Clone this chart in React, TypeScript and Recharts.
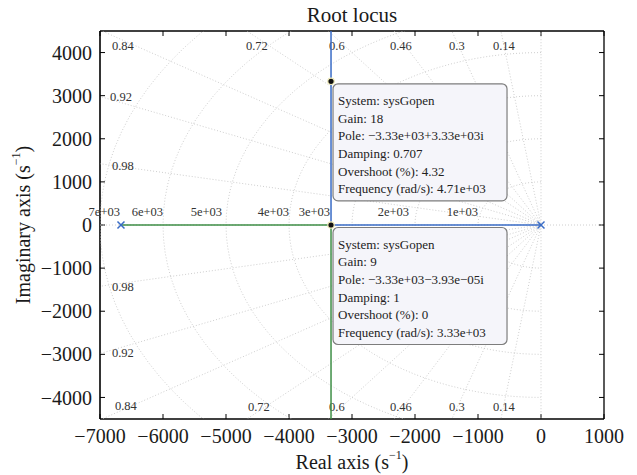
import React from "react";
import { Scatter, ScatterChart, XAxis, YAxis } from "recharts";

const X_TICKS = [-7000, -6000, -5000, -4000, -3000, -2000, -1000, 0, 1000];
const Y_TICKS = [-4000, -3000, -2000, -1000, 0, 1000, 2000, 3000, 4000];

// open-loop poles
const POLES = [
  { x: -6667, y: 0 },
  { x: 0, y: 0 },
];

// the two locus branches
const BLUE_BRANCH = [
  { x: 0, y: 0 },
  { x: -3333, y: 0 },
  { x: -3333, y: 4600 },
];
const GREEN_BRANCH = [
  { x: -6667, y: 0 },
  { x: -3333, y: 0 },
  { x: -3333, y: -4600 },
];

// sgrid values
const DAMPING = [0.14, 0.3, 0.46, 0.6, 0.72, 0.84, 0.92, 0.98];
const FREQUENCIES = [1000, 2000, 3000, 4000, 5000, 6000, 7000];

const DAMPING_LABELS = [
  { x: -6810, y: 4143, text: "0.84" },
  { x: -4683, y: 4143, text: "0.72" },
  { x: -3365, y: 4143, text: "0.6" },
  { x: -2397, y: 4143, text: "0.46" },
  { x: -1460, y: 4143, text: "0.3" },
  { x: -762, y: 4143, text: "0.14" },
  { x: -6841, y: 2963, text: "0.92" },
  { x: -6810, y: 1366, text: "0.98" },
  { x: -6810, y: -1435, text: "0.98" },
  { x: -6810, y: -2963, text: "0.92" },
  { x: -6762, y: -4201, text: "0.84" },
  { x: -4651, y: -4215, text: "0.72" },
  { x: -3365, y: -4215, text: "0.6" },
  { x: -2397, y: -4215, text: "0.46" },
  { x: -1460, y: -4215, text: "0.3" },
  { x: -762, y: -4215, text: "0.14" },
];

const FREQ_LABELS = [
  { x: -6683, y: 300, text: "7e+03" },
  { x: -6000, y: 300, text: "6e+03" },
  { x: -5063, y: 300, text: "5e+03" },
  { x: -4000, y: 300, text: "4e+03" },
  { x: -3349, y: 300, text: "3e+03" },
  { x: -2095, y: 300, text: "2e+03" },
  { x: -1000, y: 300, text: "1e+03" },
];

const TIPS = [
  {
    x: -3333,
    y: 3333,
    lines: [
      "System: sysGopen",
      "Gain: 18",
      "Pole: \u22123.33e+03+3.33e+03i",
      "Damping: 0.707",
      "Overshoot (%): 4.32",
      "Frequency (rad/s): 4.71e+03",
    ],
  },
  {
    x: -3333,
    y: 0,
    lines: [
      "System: sysGopen",
      "Gain: 9",
      "Pole: \u22123.33e+03\u22123.93e\u221205i",
      "Damping: 1",
      "Overshoot (%): 0",
      "Frequency (rad/s): 3.33e+03",
    ],
  },
];

const FONT = "'Liberation Serif', 'Times New Roman', serif";
const BLUE = "#3a6cc6";
const GREEN = "#3f8f47";
const GRID = "#c2c2c2";
const FAR = 20000;

function rayPoints(zeta: number) {
  const s = Math.sqrt(1 - zeta * zeta);
  return [
    { x: -FAR * zeta, y: FAR * s },
    { x: 0, y: 0 },
    { x: -FAR * zeta, y: -FAR * s },
  ];
}

function arcPoints(omega: number) {
  const pts = [];
  for (let deg = 90; deg <= 270; deg += 3) {
    const a = (deg * Math.PI) / 180;
    pts.push({ x: omega * Math.cos(a), y: omega * Math.sin(a) });
  }
  return pts;
}

const fmt = (v: number) => (v < 0 ? `\u2212${Math.abs(v)}` : `${v}`);

const noShape = () => <g />;

function PoleMark(props: any) {
  const { cx, cy } = props;
  const d = 3.5;
  return (
    <g stroke={BLUE} strokeWidth={1.5}>
      <line x1={cx - d} y1={cy - d} x2={cx + d} y2={cy + d} />
      <line x1={cx - d} y1={cy + d} x2={cx + d} y2={cy - d} />
    </g>
  );
}

function TipDot(props: any) {
  const { cx, cy } = props;
  return <circle cx={cx} cy={cy} r={3.2} fill="#111" stroke="#f3eebc" strokeWidth={1.2} />;
}

function TipBox(props: any) {
  const { cx, cy, payload } = props;
  const left = cx + 2;
  const top = cy + 2.5;
  return (
    <g>
      <rect x={left} y={top} width={174} height={117} rx={5} fill="#f5f5fa" stroke="#7d7d7d" strokeWidth={1.2} />
      {payload.lines.map((line: string, i: number) => (
        <text
          key={line}
          x={left + 5}
          y={top + 16.5 + i * 17.7}
          dominantBaseline="central"
          fontFamily={FONT}
          fontSize={13}
          fill="#222"
        >
          {line}
        </text>
      ))}
    </g>
  );
}

function makeLabel(anchor: "start" | "end") {
  return (props: any) => (
    <text
      x={props.cx}
      y={props.cy}
      textAnchor={anchor}
      dominantBaseline="central"
      fontFamily={FONT}
      fontSize={12.5}
      fill="#333"
    >
      {props.payload.text}
    </text>
  );
}

export default function App() {
  const tickStyle = { fontFamily: FONT, fontSize: 20, fill: "#1a1a1a" };
  return (
    <div style={{ position: "absolute", left: 0, top: 0, width: 637, height: 475, background: "#fff" }}>
      <ScatterChart width={637} height={475} margin={{ top: 30, right: 32, bottom: 0, left: 0 }}>
        <XAxis
          type="number"
          dataKey="x"
          domain={[-7000, 1000]}
          ticks={X_TICKS}
          interval={0}
          allowDataOverflow
          height={56}
          tickSize={-5}
          tickMargin={15}
          tickFormatter={fmt}
          tick={tickStyle}
          tickLine={{ stroke: "#000" }}
          axisLine={{ stroke: "#000", strokeWidth: 1.3 }}
        />
        <XAxis
          xAxisId="top"
          orientation="top"
          type="number"
          dataKey="x"
          domain={[-7000, 1000]}
          ticks={X_TICKS}
          interval={0}
          height={1}
          tickSize={-5}
          tickFormatter={() => ""}
          tickLine={{ stroke: "#000" }}
          axisLine={{ stroke: "#000", strokeWidth: 1.3 }}
        />
        <YAxis
          type="number"
          dataKey="y"
          domain={[-4500, 4500]}
          ticks={Y_TICKS}
          interval={0}
          allowDataOverflow
          width={100}
          tickSize={-5}
          tickMargin={13}
          tickFormatter={fmt}
          tick={tickStyle}
          tickLine={{ stroke: "#000" }}
          axisLine={{ stroke: "#000", strokeWidth: 1.6 }}
        />
        <YAxis
          yAxisId="right"
          orientation="right"
          type="number"
          dataKey="y"
          domain={[-4500, 4500]}
          ticks={Y_TICKS}
          interval={0}
          width={1}
          tickSize={-5}
          tickFormatter={() => ""}
          tickLine={{ stroke: "#000" }}
          axisLine={{ stroke: "#000", strokeWidth: 1.3 }}
        />

        {/* damping rays */}
        {DAMPING.map((z) => (
          <Scatter
            key={`ray-${z}`}
            data={rayPoints(z)}
            shape={noShape}
            line={{ stroke: GRID, strokeWidth: 0.8, strokeDasharray: "1 2" }}
            isAnimationActive={false}
          />
        ))}
        <Scatter
          data={[{ x: 0, y: -FAR }, { x: 0, y: FAR }]}
          shape={noShape}
          line={{ stroke: GRID, strokeWidth: 0.8, strokeDasharray: "1 2" }}
          isAnimationActive={false}
        />
        <Scatter
          data={[{ x: -FAR, y: 0 }, { x: FAR, y: 0 }]}
          shape={noShape}
          line={{ stroke: GRID, strokeWidth: 0.8, strokeDasharray: "1 2" }}
          isAnimationActive={false}
        />
        {/* natural frequency arcs */}
        {FREQUENCIES.map((w) => (
          <Scatter
            key={`arc-${w}`}
            data={arcPoints(w)}
            shape={noShape}
            line={{ stroke: GRID, strokeWidth: 0.8, strokeDasharray: "1 2" }}
            isAnimationActive={false}
          />
        ))}

        {/* labels use the unclipped top/right axes */}
        <Scatter xAxisId="top" yAxisId="right" data={DAMPING_LABELS} shape={makeLabel("start")} isAnimationActive={false} />
        <Scatter xAxisId="top" yAxisId="right" data={FREQ_LABELS} shape={makeLabel("end")} isAnimationActive={false} />

        <Scatter data={GREEN_BRANCH} shape={noShape} line={{ stroke: GREEN, strokeWidth: 1.5 }} isAnimationActive={false} />
        <Scatter data={BLUE_BRANCH} shape={noShape} line={{ stroke: BLUE, strokeWidth: 1.5 }} isAnimationActive={false} />
        <Scatter data={POLES} shape={PoleMark} isAnimationActive={false} />
        <Scatter xAxisId="top" yAxisId="right" data={TIPS} shape={TipBox} isAnimationActive={false} />
        <Scatter xAxisId="top" yAxisId="right" data={TIPS} shape={TipDot} isAnimationActive={false} />
      </ScatterChart>

      <svg width={637} height={475} style={{ position: "absolute", left: 0, top: 0, pointerEvents: "none" }}>
        <text x={352} y={15} textAnchor="middle" dominantBaseline="central" fontFamily={FONT} fontSize={21} fill="#1a1a1a">
          Root locus
        </text>
        <text x={352} y={462} textAnchor="middle" dominantBaseline="central" fontFamily={FONT} fontSize={20} fill="#1a1a1a">
          Real axis (s
          <tspan dy={-7} fontSize={12}>{"\u22121"}</tspan>
          <tspan dy={7}>)</tspan>
        </text>
        <text
          x={23}
          y={225}
          transform="rotate(-90 23 225)"
          textAnchor="middle"
          dominantBaseline="central"
          fontFamily={FONT}
          fontSize={20}
          fill="#1a1a1a"
        >
          Imaginary axis (s
          <tspan dy={-7} fontSize={12}>{"\u22121"}</tspan>
          <tspan dy={7}>)</tspan>
        </text>
      </svg>
    </div>
  );
}
